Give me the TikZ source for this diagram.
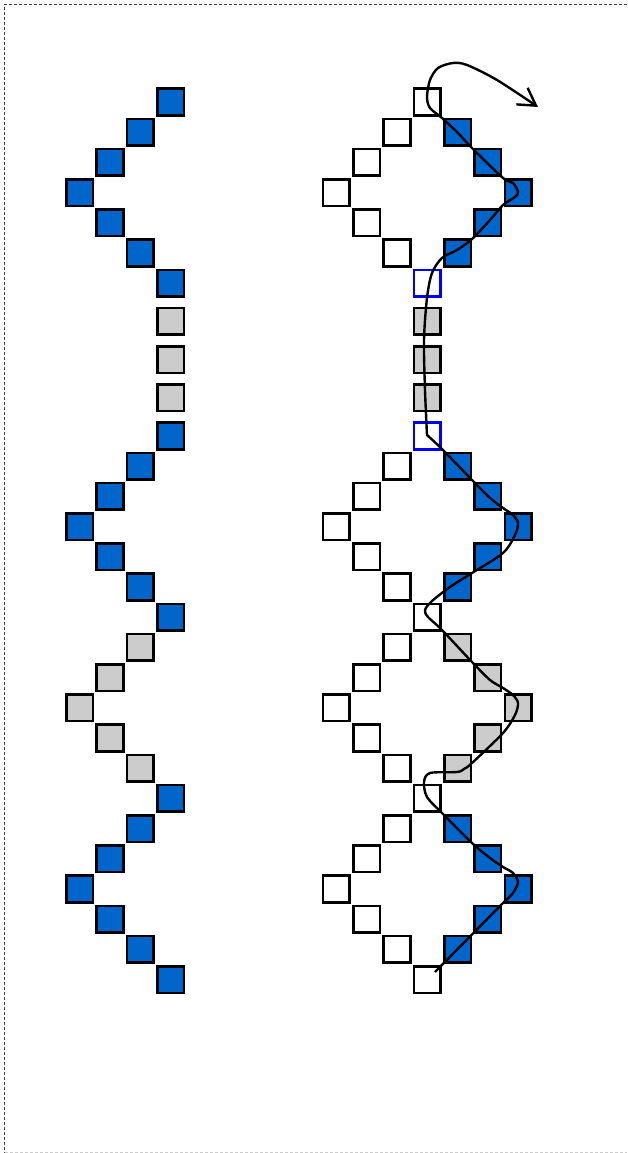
\documentclass[tikz,border=0pt]{standalone}
\usetikzlibrary{arrows.meta}
\definecolor{cellblue}{RGB}{0,102,204}
\definecolor{cellgray}{RGB}{204,204,204}

\begin{document}
\begin{tikzpicture}[x=1pt,y=-1pt,
  cell/.style={draw=black, fill=white, line width=2.6pt, minimum size=26.6pt, inner sep=0pt},
  bluecell/.style={cell, fill=cellblue},
  graycell/.style={cell, fill=cellgray},
  linkcell/.style={cell, draw=blue}]
\useasboundingbox (0,0) rectangle (627,1153);

% Frame
\draw[black!75, dash pattern=on 3pt off 2pt, line width=0.7pt] (627,4.5) -- (4.5,4.5) -- (4.5,1152.5);
\draw[black!20, dash pattern=on 3pt off 2pt, line width=0.7pt] (4.5,1152.5) -- (627,1152.5);

% Left strand: top chain
\foreach \j/\d in {0/0,1/1,2/2,3/3,4/2,5/1,6/0}
  \node[bluecell] (a\j) at (170.5-30.3*\d, 102+30.2*\j) {};
% Left strand: spacers
\foreach \j in {1,2,3}
  \node[graycell] (s\j) at (170.5, 283.2+38.2*\j) {};
% Left strand: lower chain (blue, gray, blue)
\foreach \k/\d/\c in {0/0/cellblue,1/1/cellblue,2/2/cellblue,3/3/cellblue,4/2/cellblue,5/1/cellblue,6/0/cellblue,
    7/1/cellgray,8/2/cellgray,9/3/cellgray,10/2/cellgray,11/1/cellgray,
    12/0/cellblue,13/1/cellblue,14/2/cellblue,15/3/cellblue,16/2/cellblue,17/1/cellblue,18/0/cellblue}
  \node[cell, fill=\c] (c\k) at (170.5-30.3*\d, 436+30.2*\k) {};

% Right strand: top diamond
\node[cell] (t0) at (427.2,102) {};
\foreach \j/\m in {1/1,2/2,3/3,4/2,5/1} {
  \node[cell] (tl\j) at (427.2-30.3*\m, 102+30.2*\j) {};
  \node[bluecell] (tr\j) at (427.2+30.3*\m, 102+30.2*\j) {};
}
\node[linkcell] (t6) at (427.2,283.2) {};
% Right strand: spacers
\foreach \j in {1,2,3}
  \node[graycell] (m\j) at (427.2, 283.2+38.2*\j) {};
\node[linkcell] (b0) at (427.2,436) {};
% Right strand: lower diamonds
\foreach \k/\m/\c in {1/1/cellblue,2/2/cellblue,3/3/cellblue,4/2/cellblue,5/1/cellblue,
    7/1/cellgray,8/2/cellgray,9/3/cellgray,10/2/cellgray,11/1/cellgray,
    13/1/cellblue,14/2/cellblue,15/3/cellblue,16/2/cellblue,17/1/cellblue} {
  \node[cell] (bl\k) at (427.2-30.3*\m, 436+30.2*\k) {};
  \node[cell, fill=\c] (br\k) at (427.2+30.3*\m, 436+30.2*\k) {};
}
\foreach \k in {6,12,18}
  \node[cell] (b\k) at (427.2, 436+30.2*\k) {};

% Threading curve
\draw[line width=2.4pt, -{Straight Barb[length=17pt,width=20pt]}]
  (435,972) -- plot[smooth, tension=0.5] coordinates {(503,903) (513,893) (518,882) (513,873) (503,867)
    (490,858) (472,843) (442,813) (427,797) (424,782) (430,773) (457,772) (464,769) (472,763)
    (503,733) (515,715) (518,703) (513,695) (503,688) (490,680) (472,662) (442,630) (428,617)
    (425,610) (432,601) (450,587) (472,573) (503,553) (515,535) (518,523) (513,515) (503,508)
    (490,498) (472,480) (443,450) (427,435)}
  -- plot[smooth, tension=0.5] coordinates {(427,435) (425,390) (424,340) (427,298) (432,273)
    (442,258) (457,250) (472,239) (490,220) (503,205) (515,197) (518,192) (513,183) (503,178)
    (472,148) (457,132) (442,118) (430,108) (427,97) (430,80) (438,68) (453,63) (467,65)
    (497,80) (538,107)};
\end{tikzpicture}
\end{document}
